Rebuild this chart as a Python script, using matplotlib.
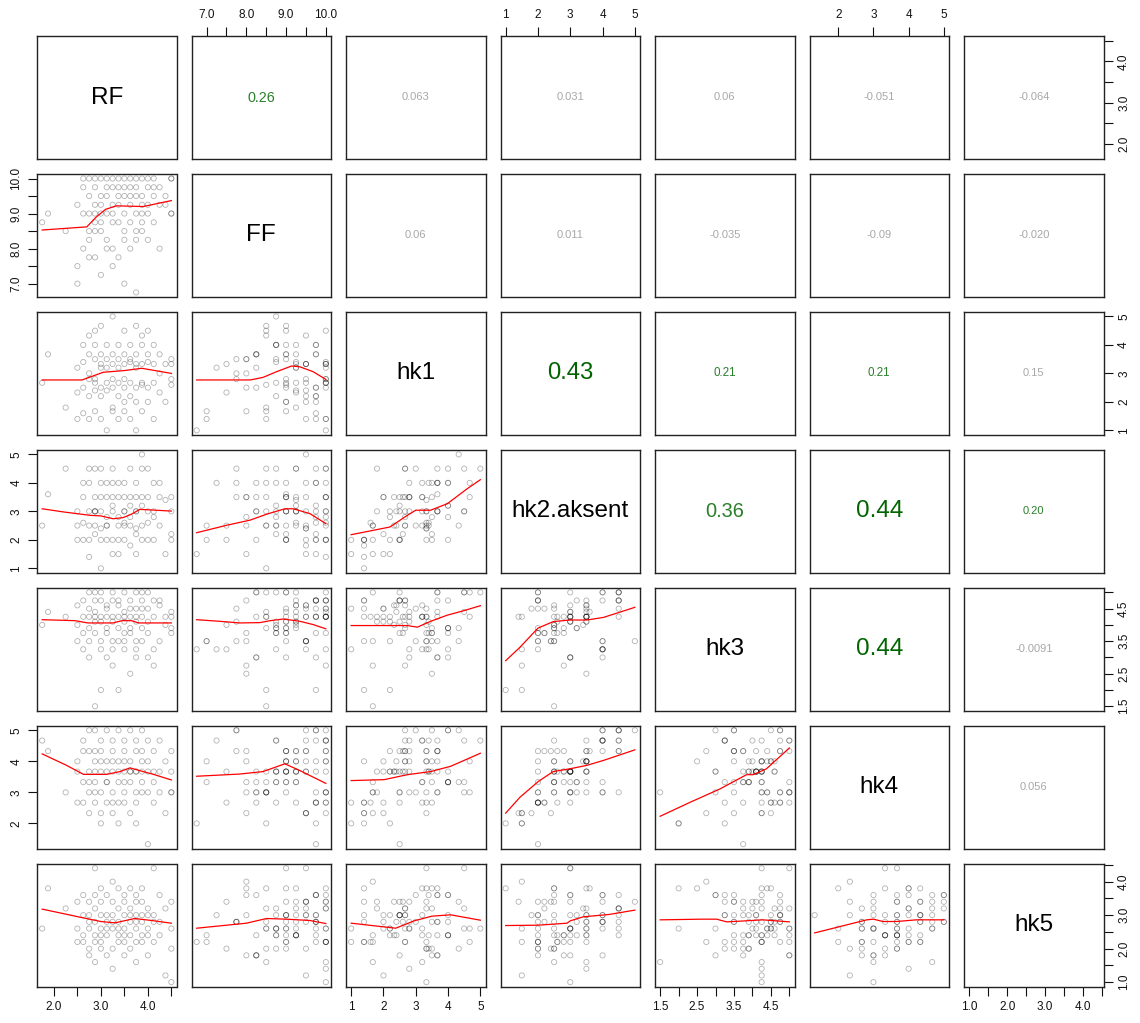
import matplotlib
matplotlib.use('Agg')
import matplotlib.pyplot as plt

plt.rcParams['font.family'] = ['Liberation Sans', 'DejaVu Sans']

# ---------------------- data ----------------------
var_names = ['RF', 'FF', 'hk1', 'hk2.aksent', 'hk3', 'hk4', 'hk5']

RF = [1.75, 1.875, 2.25, 2.5, 2.5, 2.5, 2.625, 2.625, 2.625, 2.625,
      2.75, 2.75, 2.75, 2.75, 2.75, 2.75, 2.875, 2.875, 2.875, 2.875,
      2.875, 2.875, 2.875, 3.0, 3.0, 3.0, 3.0, 3.0, 3.0, 3.0,
      3.125, 3.125, 3.125, 3.125, 3.125, 3.125, 3.25, 3.25, 3.25, 3.25,
      3.25, 3.25, 3.25, 3.375, 3.375, 3.375, 3.375, 3.375, 3.375, 3.5,
      3.5, 3.5, 3.5, 3.5, 3.5, 3.5, 3.625, 3.625, 3.625, 3.625,
      3.625, 3.625, 3.75, 3.75, 3.75, 3.75, 3.75, 3.75, 3.75, 3.875,
      3.875, 3.875, 3.875, 3.875, 3.875, 4.0, 4.0, 4.0, 4.0, 4.0,
      4.125, 4.125, 4.125, 4.125, 4.25, 4.25, 4.25, 4.375, 4.375, 4.5,
      4.5, 4.5, 4.5]

FF = [8.75, 9.0, 8.5, 7.5, 7.0, 9.25, 9.0, 8.0, 9.75, 10.0,
      8.5, 7.75, 10.0, 9.0, 8.25, 9.5, 9.25, 8.75, 9.75, 8.5,
      7.75, 10.0, 9.0, 9.5, 8.75, 7.25, 9.0, 10.0, 8.5, 9.25,
      8.0, 9.0, 10.0, 9.75, 8.25, 9.5, 9.25, 7.5, 8.75, 10.0,
      9.75, 8.0, 9.0, 9.5, 8.75, 10.0, 9.25, 7.75, 9.75, 9.0,
      10.0, 8.5, 9.5, 8.25, 9.75, 7.0, 9.25, 10.0, 8.75, 9.5,
      8.0, 9.75, 9.0, 9.5, 8.5, 10.0, 9.75, 8.25, 6.75, 9.25,
      8.75, 10.0, 9.0, 8.5, 9.5, 9.75, 9.0, 8.25, 10.0, 9.25,
      9.5, 9.75, 8.75, 10.0, 9.25, 8.0, 9.75, 9.5, 9.25, 10.0,
      9.0, 9.0, 10.0]

hk1 = [2.67, 3.67, 1.8, 2.33, 1.4, 3.2, 4.0, 2.5, 1.6, 3.4,
       4.33, 3.0, 1.4, 2.8, 3.67, 2.2, 2.4, 3.5, 4.0, 1.67,
       2.8, 2.67, 4.5, 3.33, 2.2, 3.2, 4.67, 2.5, 1.4, 3.67,
       3.5, 2.67, 1.0, 4.0, 3.2, 2.4, 1.8, 3.33, 5.0, 2.8,
       2.5, 1.67, 3.67, 2.67, 4.0, 1.4, 3.2, 3.5, 2.2, 2.0,
       3.33, 4.5, 2.8, 2.5, 3.67, 1.67, 4.0, 2.67, 3.4, 1.4,
       3.5, 2.2, 2.5, 3.33, 4.67, 3.2, 2.0, 3.67, 1.0, 2.67,
       4.0, 3.33, 1.67, 2.6, 4.33, 2.5, 2.0, 3.67, 4.5, 3.4,
       3.33, 1.4, 4.0, 2.67, 2.33, 3.0, 3.67, 2.0, 3.33, 2.8,
       3.5, 2.6, 3.33]

hk2 = [2.5, 3.6, 4.5, 2.5, 2.0, 3.0, 2.0, 3.5, 2.6, 4.0,
       2.5, 4.5, 1.4, 3.0, 4.0, 2.0, 3.0, 2.2, 4.5, 2.5,
       3.5, 3.0, 3.0, 2.4, 3.0, 4.0, 3.5, 2.0, 1.0, 4.5,
       2.8, 2.5, 2.0, 4.0, 3.5, 2.5, 3.0, 2.0, 4.5, 3.5,
       3.2, 1.5, 4.0, 3.5, 2.8, 2.0, 2.5, 4.0, 1.5, 3.5,
       2.6, 3.0, 4.0, 2.0, 3.0, 2.5, 3.2, 4.5, 2.5, 1.8,
       3.5, 2.8, 3.0, 2.4, 4.0, 3.5, 2.2, 3.0, 1.5, 4.5,
       3.2, 2.5, 2.0, 3.5, 5.0, 2.0, 3.5, 3.0, 4.5, 2.6,
       3.0, 2.0, 4.0, 2.8, 3.5, 2.5, 4.0, 1.5, 3.4, 3.5,
       2.0, 2.2, 3.0]

hk3 = [4.0, 4.4, 4.25, 4.0, 3.5, 4.6, 3.75, 4.75, 4.25, 3.25,
       3.9, 4.5, 4.25, 3.0, 5.0, 3.5, 4.4, 3.75, 4.75, 1.5,
       4.1, 4.25, 5.0, 3.5, 4.1, 3.25, 4.25, 4.75, 2.0, 5.0,
       3.75, 3.9, 4.5, 3.0, 4.25, 4.6, 4.1, 3.25, 5.0, 4.25,
       4.75, 2.75, 3.5, 4.6, 3.9, 4.75, 4.25, 3.5, 2.0, 4.1,
       3.75, 4.4, 3.25, 5.0, 4.25, 3.5, 3.9, 4.75, 3.75, 4.5,
       2.5, 4.25, 4.1, 3.5, 5.0, 4.25, 4.5, 3.0, 3.25, 4.75,
       3.9, 4.5, 5.0, 4.25, 3.5, 3.75, 4.5, 3.0, 5.0, 4.1,
       4.25, 4.75, 3.25, 2.75, 4.6, 3.5, 4.75, 4.25, 4.0, 4.4,
       3.9, 3.75, 4.25]

hk4 = [4.67, 4.33, 3.0, 3.67, 4.0, 2.67, 3.33, 4.33, 2.67, 4.67,
       3.33, 5.0, 2.33, 3.67, 3.0, 4.33, 4.0, 2.67, 5.0, 3.0,
       4.33, 3.67, 3.33, 2.33, 3.67, 4.67, 4.0, 3.0, 2.0, 4.33,
       3.33, 4.0, 2.67, 5.0, 3.33, 3.67, 3.67, 2.67, 4.67, 4.0,
       3.0, 2.33, 4.33, 4.0, 3.67, 2.67, 3.33, 5.0, 2.0, 3.67,
       4.33, 3.0, 4.67, 2.67, 4.0, 3.33, 3.33, 5.0, 3.67, 2.33,
       4.0, 3.67, 3.67, 4.33, 3.0, 4.67, 2.67, 3.67, 2.0, 4.33,
       3.33, 4.0, 3.0, 3.67, 5.0, 1.33, 4.0, 3.0, 4.67, 3.67,
       3.67, 2.67, 3.33, 4.33, 3.67, 3.0, 4.67, 2.33, 4.0, 3.0,
       3.67, 4.33, 3.0]

hk5 = [2.6, 3.8, 3.2, 3.4, 2.2, 2.6, 2.4, 3.0, 2.2, 3.6,
       2.0, 2.8, 3.4, 2.6, 1.8, 3.0, 2.4, 3.2, 3.6, 1.6,
       2.8, 2.2, 4.4, 2.0, 2.6, 3.0, 2.2, 3.4, 3.8, 2.4,
       1.8, 3.0, 2.6, 3.6, 2.4, 2.8, 3.4, 2.0, 2.6, 1.4,
       3.0, 4.0, 2.8, 3.2, 2.4, 2.2, 3.8, 2.8, 2.6, 3.0,
       2.2, 2.6, 3.4, 1.8, 3.6, 2.4, 2.8, 3.2, 2.0, 3.0,
       3.8, 2.4, 3.0, 3.4, 2.6, 1.6, 2.8, 3.6, 2.2, 3.0,
       2.4, 3.8, 2.2, 2.8, 3.4, 3.0, 2.6, 1.8, 3.2, 2.4,
       4.4, 2.8, 3.0, 2.2, 2.4, 3.6, 2.8, 1.2, 3.2, 2.6,
       2.0, 3.4, 1.0]

columns = [RF, FF, hk1, hk2, hk3, hk4, hk5]

# tick marks per variable; R drops every other label where they would collide
ticks_RF = [2.0, 2.5, 3.0, 3.5, 4.0, 4.5]
labels_RF = ['2.0', '', '3.0', '', '4.0', '']
ticks_FF = [7.0, 7.5, 8.0, 8.5, 9.0, 9.5, 10.0]
labels_FF = ['7.0', '', '8.0', '', '9.0', '', '10.0']
ticks_hk1 = [1, 2, 3, 4, 5]
labels_hk1 = ['1', '2', '3', '4', '5']
ticks_hk2 = [1, 2, 3, 4, 5]
labels_hk2 = ['1', '2', '3', '4', '5']
ticks_hk3 = [1.5, 2.0, 2.5, 3.0, 3.5, 4.0, 4.5, 5.0]
labels_hk3 = ['1.5', '', '2.5', '', '3.5', '', '4.5', '']
ticks_hk4 = [2, 3, 4, 5]
labels_hk4 = ['2', '3', '4', '5']
ticks_hk5 = [1.0, 1.5, 2.0, 2.5, 3.0, 3.5, 4.0, 4.5]
labels_hk5 = ['1.0', '', '2.0', '', '3.0', '', '4.0', '']

ticks = [ticks_RF, ticks_FF, ticks_hk1, ticks_hk2, ticks_hk3, ticks_hk4, ticks_hk5]
tick_labels = [labels_RF, labels_FF, labels_hk1, labels_hk2, labels_hk3, labels_hk4, labels_hk5]

# correlations, upper triangle row by row, and whether each is significant
cor_labels = ['0.26', '0.063', '0.031', '0.06', '-0.051', '-0.064',
              '0.06', '0.011', '-0.035', '-0.09', '-0.020',
              '0.43', '0.21', '0.21', '0.15',
              '0.36', '0.44', '0.20',
              '0.44', '-0.0091',
              '0.056']
cor_signif = [True, False, False, False, False, False,
              False, False, False, False, False,
              True, True, True, False,
              True, True, True,
              True, False,
              False]

# lowess smooths, (x, y) for each lower panel: lo_<row var>_<column var>
lo_FF_RF = ([1.75, 2.7, 2.9, 3.1, 3.33, 3.9, 4.5], [8.53, 8.62, 8.9, 9.12, 9.22, 9.2, 9.37])
lo_hk1_RF = ([1.75, 2.6, 2.75, 3.05, 3.5, 3.87, 4.5], [2.77, 2.77, 2.86, 3.04, 3.1, 3.18, 3.0])
lo_hk1_FF = ([6.75, 8.1, 8.42, 8.76, 9.14, 9.35, 9.68, 10.0], [2.77, 2.77, 2.86, 3.06, 3.26, 3.23, 3.06, 2.79])
lo_hk2_RF = ([1.75, 2.2, 2.77, 3.0, 3.26, 3.47, 3.65, 3.83, 4.5], [3.09, 2.98, 2.86, 2.84, 2.74, 2.78, 2.9, 3.07, 3.01])
lo_hk2_FF = ([6.75, 7.5, 8.09, 8.51, 8.97, 9.18, 9.6, 10.0], [2.25, 2.51, 2.69, 2.9, 3.09, 3.09, 2.92, 2.57])
lo_hk2_hk1 = ([1.0, 2.2, 2.74, 3.0, 3.46, 3.98, 4.6, 5.0], [2.18, 2.45, 2.86, 3.04, 3.04, 3.27, 3.8, 4.11])
lo_hk3_RF = ([1.75, 2.45, 2.72, 3.26, 3.45, 3.65, 3.8, 4.5], [4.16, 4.13, 4.06, 4.06, 4.13, 4.13, 4.06, 4.06])
lo_hk3_FF = ([6.75, 7.33, 7.83, 8.34, 8.6, 8.93, 9.35, 9.68, 10.0], [4.16, 4.11, 4.06, 4.07, 4.13, 4.18, 4.11, 4.01, 3.88])
lo_hk3_hk1 = ([1.0, 2.74, 3.05, 3.46, 3.98, 4.5, 5.0], [3.98, 3.98, 3.93, 4.11, 4.3, 4.44, 4.59])
lo_hk3_hk2 = ([1.0, 1.44, 2.0, 2.47, 2.99, 3.51, 4.03, 5.0], [2.9, 3.31, 3.9, 4.1, 4.15, 4.15, 4.23, 4.54])
lo_hk4_RF = ([1.75, 2.27, 2.63, 3.12, 3.41, 3.62, 3.9, 4.12, 4.5], [4.24, 3.87, 3.58, 3.58, 3.67, 3.79, 3.67, 3.58, 3.4])
lo_hk4_FF = ([6.75, 7.83, 8.42, 8.97, 9.35, 10.0], [3.52, 3.59, 3.67, 3.92, 3.70, 3.29])
lo_hk4_hk1 = ([1.0, 2.02, 2.74, 3.46, 4.08, 5.0], [3.38, 3.41, 3.57, 3.67, 3.84, 4.26])
lo_hk4_hk2 = ([1.0, 1.44, 2.01, 2.47, 2.99, 3.51, 4.03, 5.0], [2.33, 2.84, 3.35, 3.67, 3.76, 3.87, 4.03, 4.37])
lo_hk4_hk3 = ([1.5, 2.31, 3.12, 3.84, 4.02, 4.38, 5.0], [2.23, 2.68, 3.11, 3.57, 3.57, 3.76, 4.43])
lo_hk5_RF = ([1.75, 2.52, 3.0, 3.3, 3.72, 4.08, 4.5], [3.18, 2.95, 2.81, 2.77, 2.9, 2.84, 2.76])
lo_hk5_FF = ([6.75, 8.0, 8.51, 9.01, 9.6, 10.0], [2.61, 2.76, 2.9, 2.88, 2.84, 2.75])
lo_hk5_hk1 = ([1.0, 2.38, 2.95, 3.5, 4.08, 5.0], [2.76, 2.61, 2.83, 2.97, 3.01, 2.85])
lo_hk5_hk2 = ([1.0, 2.0, 2.9, 3.0, 3.4, 4.2, 5.0], [2.69, 2.7, 2.76, 2.83, 2.95, 3.02, 3.15])
lo_hk5_hk3 = ([1.5, 2.62, 3.03, 3.3, 3.66, 4.28, 5.0], [2.86, 2.88, 2.88, 2.8, 2.82, 2.86, 2.8])
lo_hk5_hk4 = ([1.33, 2.81, 3.0, 3.27, 3.65, 4.22, 5.0], [2.47, 2.86, 2.88, 2.81, 2.81, 2.86, 2.86])

smooths = {
    (1, 0): lo_FF_RF,
    (2, 0): lo_hk1_RF, (2, 1): lo_hk1_FF,
    (3, 0): lo_hk2_RF, (3, 1): lo_hk2_FF, (3, 2): lo_hk2_hk1,
    (4, 0): lo_hk3_RF, (4, 1): lo_hk3_FF, (4, 2): lo_hk3_hk1, (4, 3): lo_hk3_hk2,
    (5, 0): lo_hk4_RF, (5, 1): lo_hk4_FF, (5, 2): lo_hk4_hk1, (5, 3): lo_hk4_hk2,
    (5, 4): lo_hk4_hk3,
    (6, 0): lo_hk5_RF, (6, 1): lo_hk5_FF, (6, 2): lo_hk5_hk1, (6, 3): lo_hk5_hk2,
    (6, 4): lo_hk5_hk3, (6, 5): lo_hk5_hk4,
}

# ---------------------- layout ----------------------
W, H = 1140, 1023
left0, top0 = 37, 36          # first panel, pixels
pw, ph = 139.5, 123           # panel size, pixels
dx, dy = 154.5, 137.95        # panel step, pixels
n = len(var_names)

# axis ranges as in R: data range plus 4% on both sides
lims = []
for col in columns:
    lo, hi = min(col), max(col)
    pad = 0.04 * (hi - lo)
    lims.append((lo - pad, hi + pad))

cor_lookup = {}
k = 0
for i in range(n):
    for j in range(i + 1, n):
        cor_lookup[(i, j)] = (cor_labels[k], cor_signif[k])
        k += 1

fig = plt.figure(figsize=(W / 100, H / 100), dpi=100)
tick_kw = dict(direction='out', length=6.5, width=0.8, labelsize=8.5, pad=4,
               colors='#111111')

for i in range(n):
    for j in range(n):
        rect = [(left0 + j * dx) / W, 1 - (top0 + i * dy + ph) / H, pw / W, ph / H]
        ax = fig.add_axes(rect)
        ax.set_xlim(lims[j])
        ax.set_ylim(lims[i])
        ax.set_xticks(ticks[j], labels=tick_labels[j])
        ax.set_yticks(ticks[i], labels=tick_labels[i])
        ax.tick_params(which='both', bottom=False, top=False, left=False, right=False,
                       labelbottom=False, labeltop=False, labelleft=False, labelright=False)
        for sp in ax.spines.values():
            sp.set_color('#222222')
            sp.set_linewidth(1.0)

        if i == j:
            ax.text(0.5, 0.5, var_names[i], transform=ax.transAxes,
                    ha='center', va='center', fontsize=17.5, color='black')
        elif i < j:
            lab, sig = cor_lookup[(i, j)]
            if sig:
                r = abs(float(lab))
                col = '#006400' if r >= 0.4 else '#2a7f2a'
                ax.text(0.5, 0.5, lab, transform=ax.transAxes, ha='center',
                        va='center', fontsize=40 * r, color=col)
            else:
                ax.text(0.5, 0.5, lab, transform=ax.transAxes, ha='center',
                        va='center', fontsize=8, color='#a8a8a8')
        else:
            ax.scatter(columns[j], columns[i], s=14, facecolors='none',
                       edgecolors=(0, 0, 0, 0.3), linewidths=0.6, zorder=2)
            sx, sy = smooths[(i, j)]
            ax.plot(sx, sy, color='red', linewidth=0.9, zorder=3)

        # outer axes alternate sides, as pairs() does
        if i == 0 and j % 2 == 1:
            ax.tick_params(axis='x', top=True, labeltop=True, **tick_kw)
        if i == n - 1 and j % 2 == 0:
            ax.tick_params(axis='x', bottom=True, labelbottom=True, **tick_kw)
        if j == 0 and i % 2 == 1:
            ax.tick_params(axis='y', left=True, labelleft=True, labelrotation=90, **tick_kw)
            for t in ax.get_yticklabels():
                t.set_va('center')
        if j == n - 1 and i % 2 == 0:
            ax.tick_params(axis='y', right=True, labelright=True, labelrotation=90, **tick_kw)
            for t in ax.get_yticklabels():
                t.set_va('center')

fig.savefig('out.png', dpi=100, facecolor='white')
